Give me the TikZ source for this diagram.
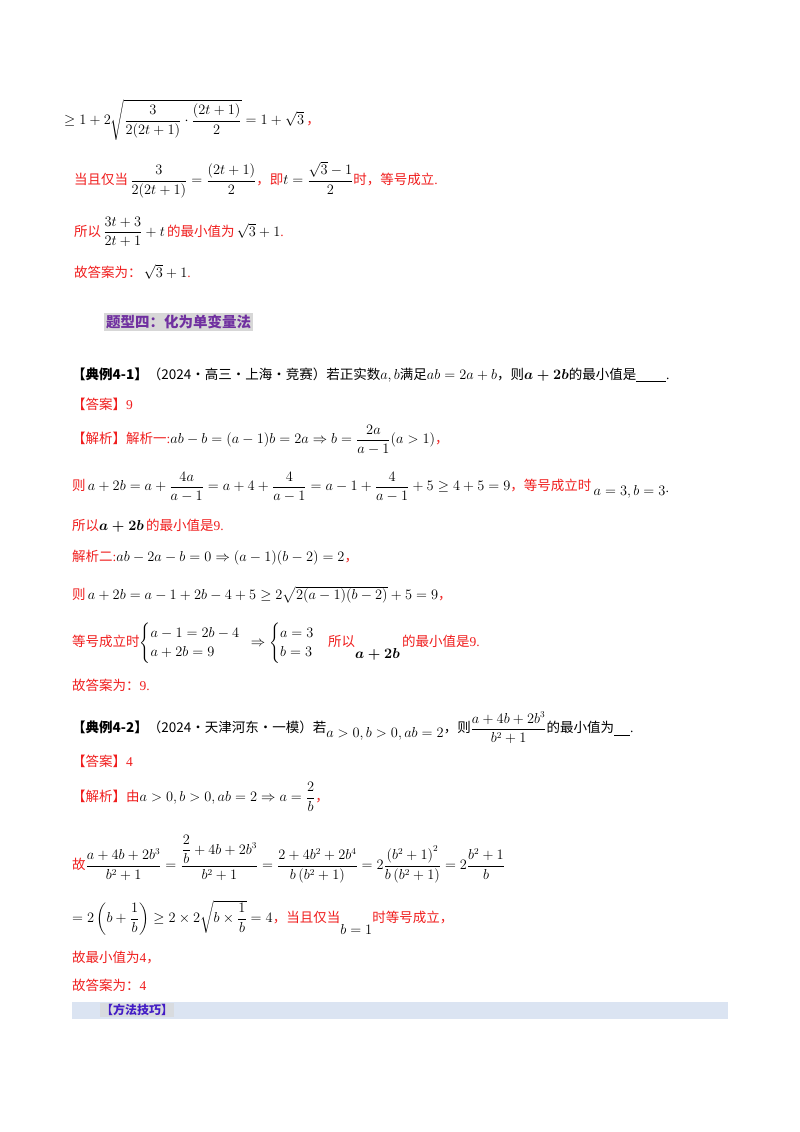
\documentclass[tikz,border=0pt]{standalone}
\usepackage{amsmath,amssymb}
\usepackage{fontspec}
\setmainfont{Liberation Serif}
\newfontfamily\cjk{Noto Sans CJK SC}
\definecolor{rd}{RGB}{240,30,30}
\definecolor{pur}{RGB}{112,48,160}
\definecolor{barbg}{RGB}{219,228,242}
\definecolor{hbg}{RGB}{215,215,215}
\newcommand{\zh}[1]{{\cjk #1}}
\begin{document}
\begin{tikzpicture}[x=1pt,y=-1pt,
  ln/.style={anchor=west,inner sep=0pt,font=\fontsize{13.5}{16}\selectfont},
  rl/.style={ln,text=rd}]
\useasboundingbox[fill=white] (0,0) rectangle (800,1132);
\node[ln] (l1) at (64,120) {$\geq 1+2\sqrt{\dfrac{3}{2(2t+1)}\cdot\dfrac{(2t+1)}{2}}=1+\sqrt{3}$\,\textcolor{rd}{\zh{，}}};
\node[rl] (l2) at (74,180) {\zh{当且仅当}\,\textcolor{black}{$\dfrac{3}{2(2t+1)}=\dfrac{(2t+1)}{2}$}\zh{，即}\textcolor{black}{$t=\dfrac{\sqrt3-1}{2}$}\zh{时，等号成立}.};
\node[rl] (l3) at (74,232) {\zh{所以}\,\textcolor{black}{$\dfrac{3t+3}{2t+1}+t$}\,\zh{的最小值为}\,\textcolor{black}{$\sqrt3+1$}.};
\node[rl] (l4) at (74,272) {\zh{故答案为：}\,\textcolor{black}{$\sqrt3+1$}.};
\node[ln,fill=hbg,inner sep=2pt,text=pur,font=\fontsize{14.5}{16}\selectfont\cjk\bfseries] (h) at (104,322) {题型四：化为单变量法};
\node[ln] (e1) at (72,375) {\zh{\textbf{【典例4-1】}（2024·高三·上海·竞赛）若正实数}$a,b$\zh{满足}$ab=2a+b$\zh{，则}$\boldsymbol{a+2b}$\zh{的最小值是}\underline{\hspace{2.2em}}.};
\node[rl] (e1a) at (72,404) {\zh{【答案】}9};
\node[rl] (e1b) at (72,440) {\zh{【解析】解析一}:\textcolor{black}{$ab-b=(a-1)b=2a\Rightarrow b=\dfrac{2a}{a-1}(a>1)$}\zh{，}};
\node[rl] (e1c) at (72,487) {\zh{则}\,\textcolor{black}{$a+2b=a+\dfrac{4a}{a-1}=a+4+\dfrac{4}{a-1}=a-1+\dfrac{4}{a-1}+5\geq4+5=9$}\zh{，等号成立时}\,\raisebox{-5pt}{\textcolor{black}{$a=3,b=3\cdot$}}};
\node[rl] (e1d) at (72,526) {\zh{所以}\textcolor{black}{$\boldsymbol{a+2b}$}\,\zh{的最小值是}9.};
\node[rl] (e1e) at (72,558) {\zh{解析二}:\textcolor{black}{$ab-2a-b=0\Rightarrow(a-1)(b-2)=2$}\zh{，}};
\node[rl] (e1f) at (72,595) {\zh{则}\,\textcolor{black}{$a+2b=a-1+2b-4+5\geq2\sqrt{2(a-1)(b-2)}+5=9$}\zh{，}};
\node[rl] (e1g) at (72,643) {\zh{等号成立时}\textcolor{black}{$\begin{cases}a-1=2b-4\\a+2b=9\end{cases}\!\!\!\Rightarrow\begin{cases}a=3\\b=3\end{cases}$}\zh{所以}\raisebox{-12pt}{\textcolor{black}{$\boldsymbol{a+2b}$}}\,\zh{的最小值是}9.};
\node[rl] (e1h) at (72,685) {\zh{故答案为：}9.};
\node[ln] (e2) at (72,728) {\zh{\textbf{【典例4-2】}（2024·天津河东·一模）若}\raisebox{-5pt}{$a>0,b>0,ab=2$}\zh{，则}$\dfrac{a+4b+2b^3}{b^2+1}$\zh{的最小值为}\underline{\hspace{1.2em}}.};
\node[rl] (e2a) at (72,761) {\zh{【答案】}4};
\node[rl] (e2b) at (72,797) {\zh{【解析】由}\textcolor{black}{$a>0,b>0,ab=2\Rightarrow a=\dfrac{2}{b}$}\zh{，}};
\node[rl] (e2c) at (72,859) {\zh{故}\textcolor{black}{$\dfrac{a+4b+2b^3}{b^2+1}=\dfrac{\dfrac{2}{b}+4b+2b^3}{b^2+1}=\dfrac{2+4b^2+2b^4}{b\left(b^2+1\right)}=2\dfrac{\left(b^2+1\right)^2}{b\left(b^2+1\right)}=2\dfrac{b^2+1}{b}$}};
\node[rl] (e2d) at (72,918) {\textcolor{black}{$=2\left(b+\dfrac{1}{b}\right)\geq2\times2\sqrt{b\times\dfrac1b}=4$}\zh{，当且仅当}\raisebox{-12pt}{\textcolor{black}{$b=1$}}\zh{时等号成立，}};
\node[rl] (e2e) at (72,958) {\zh{故最小值为}4\zh{，}};
\node[rl] (e2f) at (72,985) {\zh{故答案为：}4};
\fill[barbg] (72,1002) rectangle (728,1019);
\node[ln,fill=hbg!70!barbg,inner sep=1pt,text=pur!60!blue,font=\fontsize{12}{14}\selectfont\cjk\bfseries] (m) at (100,1010) {【方法技巧】};
\end{tikzpicture}
\end{document}
